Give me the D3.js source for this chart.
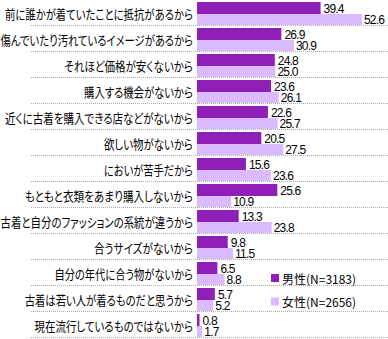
<!DOCTYPE html>
<html><head><meta charset="utf-8">
<script src="https://cdn.jsdelivr.net/npm/d3@7"></script>
<style>
html,body{margin:0;padding:0;background:#fff;}
svg{display:block;}
.cat{font-family:"Noto Sans CJK JP",sans-serif;font-size:13px;font-feature-settings:"palt";}
.val{font-family:"Liberation Sans",Arial,sans-serif;font-size:12px;letter-spacing:-0.8px;}
.leg{font-family:"Noto Sans CJK JP",sans-serif;font-size:12px;font-feature-settings:"palt";}
</style>
</head><body>
<svg id="c" width="388" height="339"></svg>
<script>
const categories = [
  "前に誰かが着ていたことに抵抗があるから",
  "傷んでいたり汚れているイメージがあるから",
  "それほど価格が安くないから",
  "購入する機会がないから",
  "近くに古着を購入できる店などがないから",
  "欲しい物がないから",
  "においが苦手だから",
  "もともと衣類をあまり購入しないから",
  "古着と自分のファッションの系統が違うから",
  "合うサイズがないから",
  "自分の年代に合う物がないから",
  "古着は若い人が着るものだと思うから",
  "現在流行しているものではないから"
];
const male   = [39.4, 26.9, 24.8, 23.6, 22.6, 20.5, 15.6, 25.6, 13.3, 9.8, 6.5, 5.7, 0.8];
const female = [52.6, 30.9, 25.0, 26.1, 25.7, 27.5, 23.6, 10.9, 23.8, 11.5, 8.8, 5.2, 1.7];
const seriesNames = ["男性(N=3183)", "女性(N=2656)"];
const colors = ["#8f1fb6", "#dbbbff"];

const svg = d3.select("#c");
const x = d3.scaleLinear().domain([0, 60]).range([197, 385.2]);
const y = d3.scaleBand().domain(categories).range([0, 338]).padding(0);

// separators
svg.append("g").selectAll("line").data(categories).join("line")
  .attr("x1", 31).attr("x2", 388)
  .attr("y1", d => y(d) + y.bandwidth() - 0.5)
  .attr("y2", d => y(d) + y.bandwidth() - 0.5)
  .attr("stroke", "#aaa").attr("stroke-width", 1)
  .attr("stroke-dasharray", "1,1");

const rows = svg.append("g").selectAll("g").data(categories).join("g")
  .attr("transform", d => `translate(0,${y(d)})`);

const perChar = 9.9;
rows.append("text").attr("class", "cat")
  .attr("y", 19)
  .text(d => d)
  .each(function(d) {
    const n = Array.from(d).length;
    const target = Math.min(192.5, n * perChar);
    d3.select(this)
      .attr("textLength", target)
      .attr("lengthAdjust", "spacingAndGlyphs")
      .attr("x", 193 - target);
  });

rows.append("rect")
  .attr("x", x(0)).attr("y", 2)
  .attr("width", (d, i) => x(male[i]) - x(0)).attr("height", 12)
  .attr("fill", colors[0]);
rows.append("rect")
  .attr("x", x(0)).attr("y", 14)
  .attr("width", (d, i) => x(female[i]) - x(0)).attr("height", 11)
  .attr("fill", colors[1]);

rows.append("text").attr("class", "val")
  .attr("x", (d, i) => x(male[i]) + 3).attr("y", 13)
  .text((d, i) => male[i].toFixed(1));
rows.append("text").attr("class", "val")
  .attr("x", (d, i) => x(female[i]) + 2).attr("y", 23.5)
  .text((d, i) => female[i].toFixed(1));

// legend
const leg = svg.append("g").selectAll("g").data(seriesNames).join("g")
  .attr("transform", (d, i) => `translate(271,${274 + i * 23.5})`);
leg.append("rect").attr("width", 8).attr("height", 8).attr("fill", (d, i) => colors[i]);
leg.append("text").attr("class", "leg").attr("x", 11).attr("y", 9.5).text(d => d);
</script>
</body></html>
